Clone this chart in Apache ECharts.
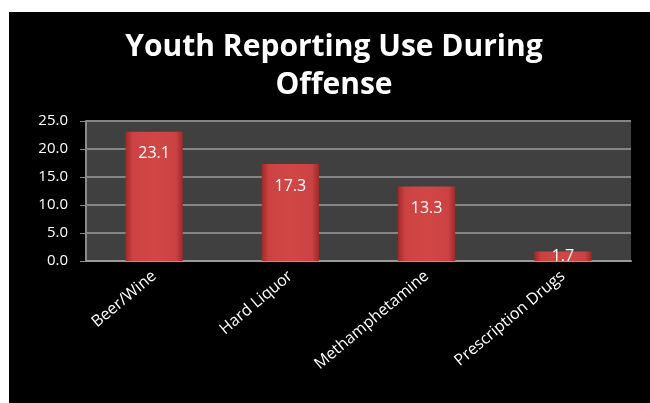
<!DOCTYPE html>
<html>
<head>
<meta charset="utf-8">
<script src="https://cdn.jsdelivr.net/npm/echarts@6/dist/echarts.min.js"></script>
<style>
  html, body { margin: 0; padding: 0; background: #ffffff; }
  #frame { position: absolute; left: 9px; top: 12px; width: 641px; height: 391px; background: #000000; }
  #chart { position: absolute; left: 0; top: 0; width: 650px; height: 403px; }
</style>
</head>
<body>
<div id="frame"></div>
<div id="chart"></div>
<script>
// Share of youth reporting substance use at the time of the offense
const categories = ['Beer/Wine', 'Hard Liquor', 'Methamphetamine', 'Prescription Drugs'];
const values = [23.1, 17.3, 13.3, 1.7];
const yTicks = { min: 0, max: 25, interval: 5 };

const FONT = '"Open Sans", "Noto Sans", sans-serif';

const barFill = new echarts.graphic.LinearGradient(0, 0, 1, 0, [
  { offset: 0, color: '#9c2a2a' },
  { offset: 0.12, color: '#cc4242' },
  { offset: 0.5, color: '#d24646' },
  { offset: 0.88, color: '#cc4242' },
  { offset: 1, color: '#9c2a2a' }
]);

const chart = echarts.init(document.getElementById('chart'), null, { renderer: 'canvas' });

chart.setOption({
  backgroundColor: 'transparent',
  animation: false,
  title: {
    text: 'Youth Reporting Use During\nOffense',
    left: 329,
    top: 23,
    textAlign: 'center',
    textStyle: {
      color: '#ffffff',
      fontFamily: FONT,
      fontWeight: 'bold',
      fontSize: 30,
      lineHeight: 38
    }
  },
  grid: { left: 86, right: 19, top: 121, bottom: 142 },
  xAxis: {
    type: 'category',
    data: categories,
    axisLine: { show: true, lineStyle: { color: '#9a9a9a', width: 2 } },
    axisTick: { show: false },
    axisLabel: {
      color: '#ffffff',
      fontFamily: FONT,
      fontSize: 16,
      rotate: 40,
      margin: 13,
      interval: 0
    }
  },
  yAxis: {
    type: 'value',
    min: yTicks.min,
    max: yTicks.max,
    interval: yTicks.interval,
    axisLine: { show: true, lineStyle: { color: '#8a8a8a', width: 2 } },
    axisTick: { show: true, length: 6, lineStyle: { color: '#8a8a8a' } },
    axisLabel: {
      color: '#ffffff',
      fontFamily: FONT,
      fontSize: 15,
      margin: 18,
      formatter: v => v.toFixed(1)
    },
    splitLine: { show: true, lineStyle: { color: '#858585', width: 2 } },
    splitArea: { show: true, areaStyle: { color: ['#404040'] } }
  },
  series: [{
    type: 'bar',
    barWidth: '42%',
    data: values.map(v => ({
      value: v,
      label: v < 3 ? { position: 'inside' } : undefined
    })),
    itemStyle: {
      color: barFill
    },
    label: {
      show: true,
      position: 'insideTop',
      distance: 14,
      color: '#ffffff',
      fontFamily: FONT,
      fontSize: 16,
      formatter: p => p.value.toFixed(1)
    }
  }]
});
</script>
</body>
</html>
